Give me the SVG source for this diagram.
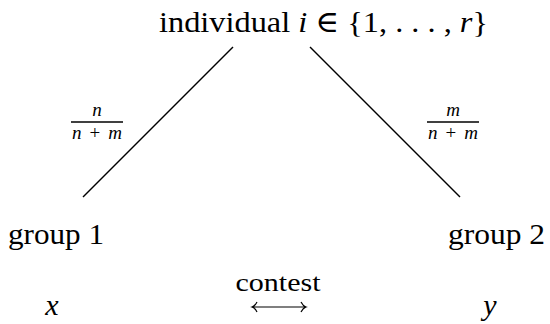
<svg xmlns="http://www.w3.org/2000/svg" width="550" height="324" viewBox="0 0 550 324">
<style>
text{fill:#000}
.t{font-size:30px}
.f{font-size:19px;font-style:italic}
.i{font-style:italic}
.ln{stroke:#000;stroke-width:1.4}
</style>
<rect width="550" height="324" fill="#fff"/>
<g id="connectors">
<line class="ln" x1="83" y1="197" x2="233" y2="47"/>
<line class="ln" x1="310" y1="47" x2="460" y2="197"/>
</g>
<g font-family="Liberation Serif, DejaVu Serif, serif">
<g id="individual"><text class="t" x="159" y="32" textLength="329" lengthAdjust="spacingAndGlyphs">individual <tspan class="i">i</tspan> ∈ {1, . . . , <tspan class="i">r</tspan>}</text></g>
<g id="frac1">
<text class="f" x="97" y="115.5" text-anchor="middle">n</text>
<line class="ln" x1="71" y1="122" x2="123" y2="122" style="stroke-width:1.3"/>
<text class="f" x="72" y="138.5" textLength="50" lengthAdjust="spacing">n<tspan font-style="normal">+</tspan>m</text>
</g>
<g id="frac2">
<text class="f" x="453" y="115.5" text-anchor="middle">m</text>
<line class="ln" x1="427" y1="122" x2="479" y2="122" style="stroke-width:1.3"/>
<text class="f" x="428" y="138.5" textLength="50" lengthAdjust="spacing">n<tspan font-style="normal">+</tspan>m</text>
</g>
<g id="group1"><text class="t" x="8" y="244" textLength="96" lengthAdjust="spacingAndGlyphs">group 1</text></g>
<g id="group2"><text class="t" x="448" y="244" textLength="97" lengthAdjust="spacingAndGlyphs">group 2</text></g>
<g id="x"><text class="t i" x="52" y="315" text-anchor="middle">x</text></g>
<g id="y"><text class="t i" x="490" y="315" text-anchor="middle">y</text></g>
<g id="contest">
<text style="font-size:26px" x="278" y="291" text-anchor="middle" textLength="85" lengthAdjust="spacingAndGlyphs">contest</text>
<path d="M252 307H306M257 302Q255 306 252 307Q255 308 257 312M301 302Q303 306 306 307Q303 308 301 312" fill="none" stroke="#000" stroke-width="1.2"/>
</g>
</g>
</svg>
